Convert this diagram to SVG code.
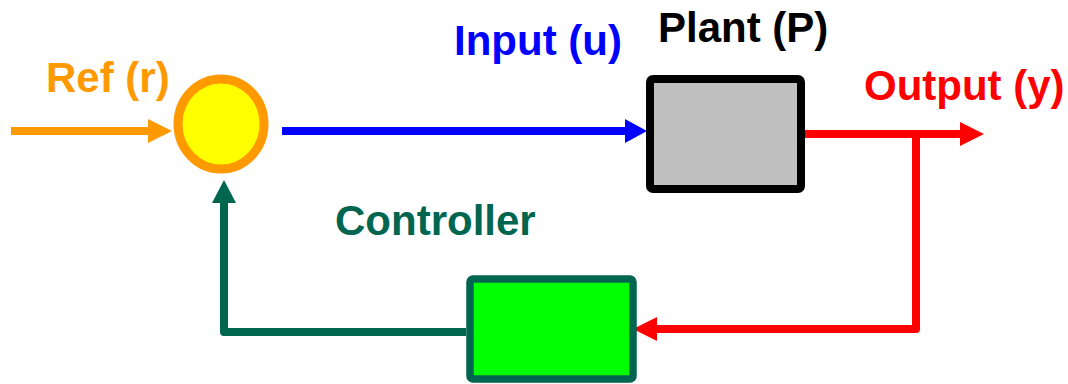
<svg xmlns="http://www.w3.org/2000/svg" width="1068" height="384" viewBox="0 0 1068 384">
<defs>
<style>
text{font-family:"Liberation Sans",Arial,sans-serif;font-weight:bold;font-size:42px}
.ln{fill:none;stroke-width:8;stroke-linejoin:round}
</style>
</defs>
<rect width="1068" height="384" fill="#fff"/>
<g id="connectors">
<path class="ln" d="M11,131 H150" stroke="#FF9900"/>
<polygon points="148,119 172,131 148,143" fill="#FF9900"/>
<path class="ln" d="M282,131 H627" stroke="#0000FF"/>
<polygon points="625,119 647,131 625,143" fill="#0000FF"/>
<path class="ln" d="M805,134 H962" stroke="#FF0000"/>
<polygon points="960,122 984,134 960,146" fill="#FF0000"/>
<path class="ln" d="M916,134 V329 H655" stroke="#FF0000"/>
<polygon points="657,317 633,329 657,341" fill="#FF0000"/>
<path class="ln" d="M466,332 H224 V201" stroke="#00664F"/>
<polygon points="212,203 224,180 236,203" fill="#00664F"/>
</g>
<g id="sum">
<ellipse cx="221" cy="124" rx="43" ry="45" fill="#FFFF00" stroke="#FF9900" stroke-width="9"/>
</g>
<g id="plant">
<rect x="650" y="79" width="151" height="110" rx="3" fill="#C0C0C0" stroke="#000" stroke-width="8"/>
</g>
<g id="controller">
<rect x="470" y="279" width="163" height="100" rx="3" fill="#00FF00" stroke="#00664F" stroke-width="7.5"/>
</g>
<g id="labels">
<text x="46" y="92" fill="#FF9900">Ref (r)</text>
<text x="454" y="55" fill="#0000FF">Input (u)</text>
<text x="658" y="42" fill="#000">Plant (P)</text>
<text x="864" y="100" fill="#FF0000">Output (y)</text>
<text x="335" y="235" fill="#00664F">Controller</text>
</g>
</svg>
